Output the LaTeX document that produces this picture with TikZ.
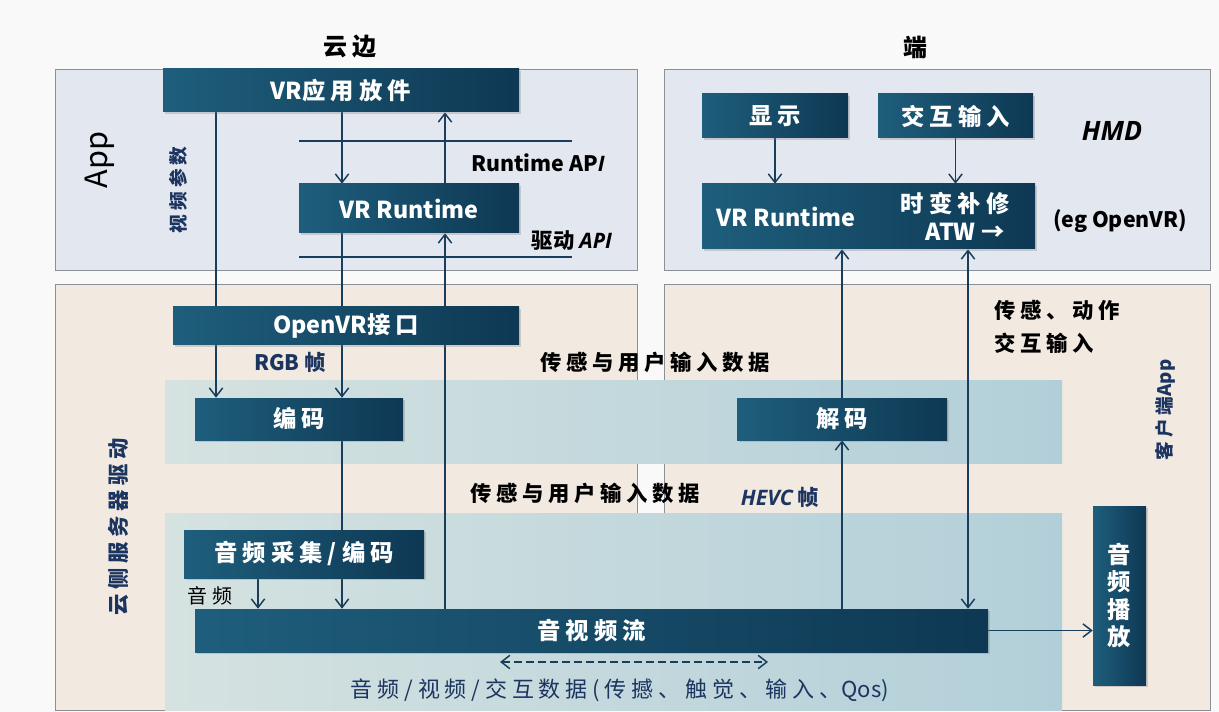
\documentclass[tikz,border=0pt]{standalone}
\usepackage{fontspec}
\setmainfont{Noto Sans CJK SC}
\newfontfamily\cjksp{Noto Sans CJK SC}[LetterSpace=22]
\newfontfamily\latinit{Open Sans}
\usetikzlibrary{arrows.meta,shadows}

\pgfdeclarelayer{panels}
\pgfdeclarelayer{links}
\pgfsetlayers{panels,links,main}

\definecolor{pageback}{RGB}{249,249,249}
\definecolor{toppanel}{RGB}{227,231,239}
\definecolor{botpanel}{RGB}{242,234,225}
\definecolor{panelrule}{RGB}{140,144,150}
\definecolor{bandl}{RGB}{213,226,224}
\definecolor{bandr}{RGB}{178,207,217}
\definecolor{boxl}{RGB}{30,94,124}
\definecolor{boxr}{RGB}{14,56,83}
\definecolor{linkc}{RGB}{24,62,92}
\definecolor{navytext}{RGB}{28,52,96}

\newcommand\pxu[1]{#1*0.75pt}

\tikzset{every picture/.style={line width=0.75pt}}
\tikzset{
  dbox/.style={left color=boxl, right color=boxr, text=white, inner sep=0pt,
    font=\fontsize{17.5}{21}\selectfont\bfseries,
    drop shadow={shadow xshift=1.5pt, shadow yshift=-1.5pt, opacity=0.3}},
  arw/.style={draw=linkc, line width=1.1pt, -{Straight Barb[length=6.5pt,width=10pt]}},
  lnk/.style={draw=linkc, line width=1.1pt},
  lbl/.style={inner sep=0.75pt, font=\fontsize{16}{19}\selectfont\bfseries},
  vtxt/.style={inner sep=0.75pt, rotate=90, text=navytext, font=\fontsize{14}{17}\selectfont\bfseries},
}

\begin{document}
\begin{tikzpicture}[x=0.75pt,y=0.75pt,yscale=-1,xscale=1]
\useasboundingbox (0,0) rectangle (1219,712);

\begin{pgfonlayer}{panels}
\fill [pageback] (0,0) rectangle (1219,712);
%Shape: Rectangle (cloud / device panels)
\draw [draw=panelrule, fill=toppanel] (55,69) rectangle (637,270);
\draw [draw=panelrule, fill=toppanel] (664,69) rectangle (1210,270);
\draw [draw=panelrule, fill=botpanel] (55,284) rectangle (637,710);
\draw [draw=panelrule, fill=botpanel] (664,284) rectangle (1210,710);
%Shape: Rectangle (bands)
\shade [left color=bandl, right color=bandr] (165,380) rectangle (1062,463);
\shade [left color=bandl, right color=bandr] (165,513) rectangle (1062,710);
%Straight Lines (API levels)
\draw [linkc, line width=1pt] (299,141) -- (572,141);
\draw [linkc, line width=1pt] (299,257) -- (572,257);
\end{pgfonlayer}

% Boxes, cloud side
\node (vrapp) [dbox, minimum width=\pxu{356}, minimum height=\pxu{43}] at (341,90.5) {VR{\cjksp 应用放件}};
\node (vrrt) [dbox, minimum width=\pxu{220}, minimum height=\pxu{49}] at (409,208.5) {VR Runtime};
\node (openvr) [dbox, minimum width=\pxu{346}, minimum height=\pxu{38}] at (346,326) {OpenVR{\cjksp 接口}};
\node (enc) [dbox, minimum width=\pxu{208}, minimum height=\pxu{42}] at (299,419) {\cjksp 编码};
\node (aud) [dbox, minimum width=\pxu{240}, minimum height=\pxu{48}] at (304,554) {\cjksp 音频采集/编码};
\node (avs) [dbox, minimum width=\pxu{793}, minimum height=\pxu{43}] at (591.5,630.5) {\cjksp 音视频流};
% Boxes, device side
\node (disp) [dbox, minimum width=\pxu{146}, minimum height=\pxu{44}] at (775,116) {\cjksp 显示};
\node (inp) [dbox, minimum width=\pxu{155}, minimum height=\pxu{44}] at (955.5,116) {\cjksp 交互输入};
\node (hrt) [dbox, minimum width=\pxu{333}, minimum height=\pxu{65}] at (868.5,216.5) {};
\node (dec) [dbox, minimum width=\pxu{210}, minimum height=\pxu{42}] at (842,419) {\cjksp 解码};
\node (play) [dbox, minimum width=\pxu{53}, minimum height=\pxu{179}, align=center,
  font=\fontsize{17.5}{20.5}\selectfont\bfseries] at (1119.5,595.5) {音\\频\\播\\放};

% Text Node
\node (hrtl) [text=white, font=\fontsize{17.5}{21}\selectfont\bfseries] at (786,217) {VR Runtime};
\node (hrtm) [text=white, font=\fontsize{17.5}{21}\selectfont\bfseries] at (955,204) {\cjksp 时变补修};
\node (hrta) [text=white, font=\fontsize{17.5}{21}\selectfont\bfseries] at (965,232) {ATW →};

% Text Node
\node (tcloud) [lbl, font=\fontsize{18}{21}\selectfont\bfseries] at (350,47) {\cjksp 云边};
\node (tdev) [lbl, font=\fontsize{18}{21}\selectfont\bfseries] at (915,47) {端};
\node (tapp) [rotate=90, font=\fontsize{23}{26}\selectfont] at (100,160) {App};
\node (tvpar) [vtxt] at (178,190) {\cjksp 视频参数};
\node (trapi) [lbl] at (538,163) {Runtime AP{\latinit\itshape I}};
\node (tdapi) [lbl] at (572,241) {驱动 {\latinit\itshape API}};
\node (thmd) [font=\fontsize{20}{24}\selectfont\latinit\bfseries\itshape] at (1112,131) {HMD};
\node (teg) [lbl] at (1120,221) {(eg OpenVR)};
\node (trgb) [lbl, text=navytext] at (290,362) {RGB 帧};
\node (tsen1) [lbl] at (655,362) {\cjksp 传感与用户输入数据};
\node (tsen2) [lbl] at (585,493) {\cjksp 传感与用户输入数据};
\node (thevc) [lbl, text=navytext] at (780,497) {{\latinit\itshape HEVC} 帧};
\node (tmove) [lbl, anchor=west, align=left, font=\fontsize{16}{25}\selectfont\bfseries] at (993,327) {\cjksp 传感、动作\\\cjksp 交互输入};
\node (tclient) [vtxt] at (1165,410) {{\cjksp 客户端}App};
\node (tserver) [vtxt, font=\fontsize{16}{19}\selectfont\bfseries] at (118,527) {\cjksp 云侧服务器驱动};
\node (taudio) [font=\fontsize{15}{18}\selectfont] at (210,596) {\cjksp 音频};
\node (tdata) [text=navytext, font=\fontsize{16.5}{19}\selectfont] at (620,690) {{\cjksp 音频/视频/交互数据(传撼、触觉、输入、}Qos)};

% columns of the vertical links
\coordinate (k216) at (216,0);
\coordinate (k258) at (258,0);
\coordinate (k342) at (342,0);
\coordinate (k445) at (445,0);
\coordinate (k842) at (842,0);
\coordinate (k968) at (968,0);
\coordinate (dsl) at (500,662);
\coordinate (dsr) at (768,662);

\begin{pgfonlayer}{links}
%Straight Lines
\draw [arw] (vrapp.south -| k216) -- (enc.north -| k216);
\draw [arw] (vrapp.south -| k342) -- (vrrt.north -| k342);
\draw [arw] (vrrt.south -| k342) -- (enc.north -| k342);
\draw [lnk] (enc.south -| k342) -- (aud.north -| k342);
\draw [arw] (aud.south -| k342) -- (avs.north -| k342);
\draw [arw] (aud.south -| k258) -- (avs.north -| k258);
\draw [arw] (avs.north -| k445) -- (vrrt.south -| k445);
\draw [arw] (vrrt.north -| k445) -- (vrapp.south -| k445);
\draw [arw] (disp.south) -- (disp.south |- hrt.north);
\draw [arw] (inp.south) -- (inp.south |- hrt.north);
\draw [arw] (avs.north -| k842) -- (dec.south -| k842);
\draw [arw] (dec.north -| k842) -- (hrt.south -| k842);
\draw [arw, {Straight Barb[length=6.5pt,width=10pt]}-{Straight Barb[length=6.5pt,width=10pt]}] (hrt.south -| k968) -- (avs.north -| k968);
\draw [arw] (avs.east) -- (play.west |- avs.east);
\draw [arw, dash pattern=on 6pt off 3pt, {Straight Barb[length=6.5pt,width=10pt]}-{Straight Barb[length=6.5pt,width=10pt]}] (dsl) -- (dsr);
\end{pgfonlayer}

\end{tikzpicture}
\end{document}
